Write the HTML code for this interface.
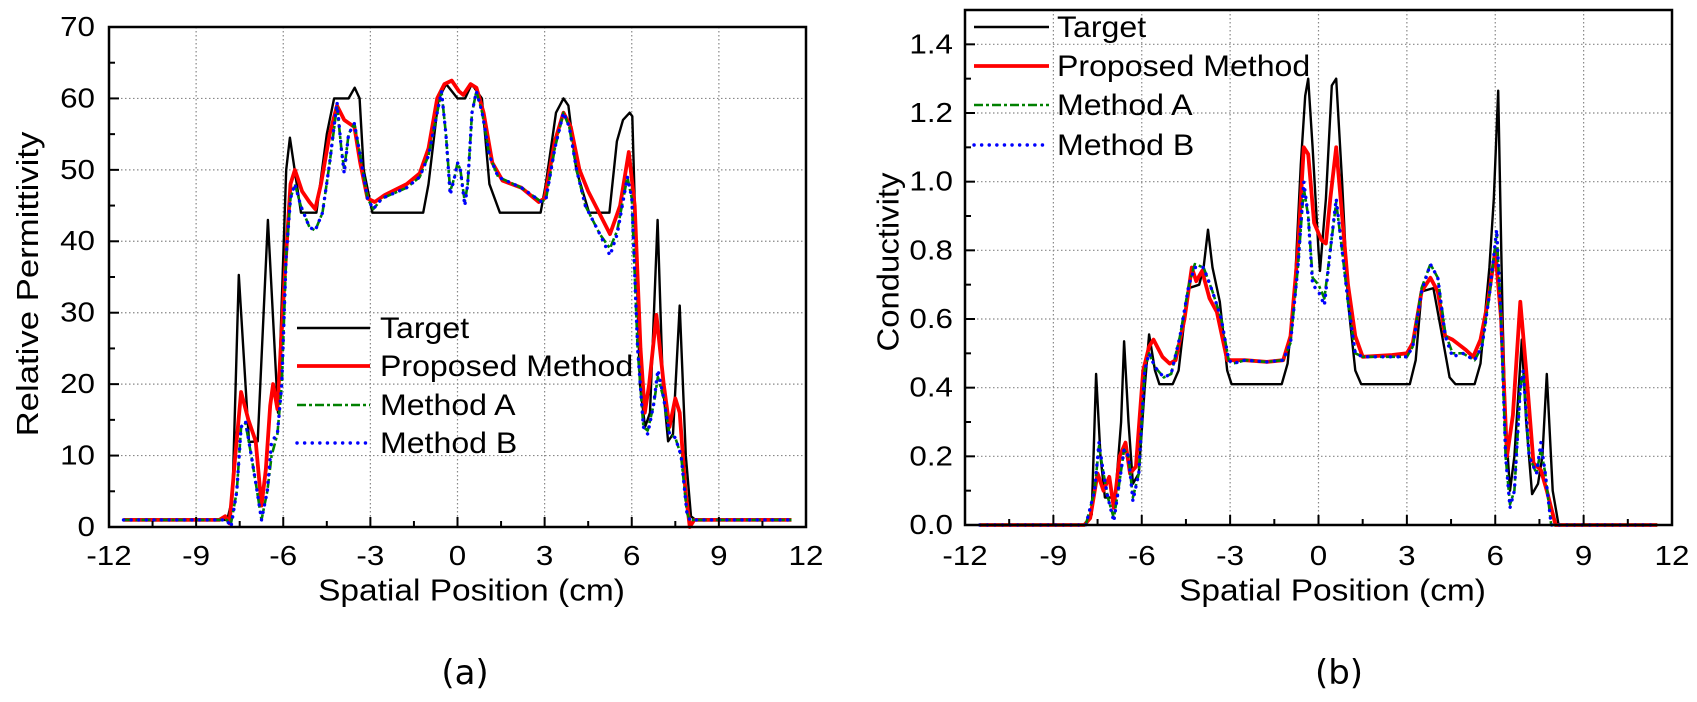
<!DOCTYPE html>
<html><head><meta charset="utf-8"><style>
html,body{margin:0;padding:0;background:#fff;}
svg{display:block;font-family:"Liberation Sans",sans-serif;}
</style></head><body>
<svg id="fig" width="1697" height="702" viewBox="0 0 1697 702" xmlns="http://www.w3.org/2000/svg"></svg>
<script>
// ---------- Data: panel (a) relative permittivity ----------
const aTargetX=[-11.5,-8,-7.9,-7.75,-7.53,-7.18,-6.88,-6.53,-6.18,-5.9,-5.77,-5.39,-4.86,-4.5,-4.25,-3.75,-3.54,-3.37,-3.23,-2.93,-1.18,-1.0,-0.65,-0.39,0,0.26,0.49,0.84,1.1,1.46,2.86,3.04,3.39,3.65,3.82,4.09,4.53,5.23,5.49,5.7,5.93,6.02,6.28,6.46,6.63,6.89,7.07,7.25,7.42,7.65,7.86,8.04,8.2,11.5];
const aTargetY=[1,1,1.5,4,35.3,11.9,12,43,16,50,54.5,44,44,55,60,60,61.5,60,50,44,44,48,60,62,60,60,62,60,48,44,44,48,58,60,59,50,44,44,54,57,58,57.5,20,14,16,43,20,12,13,31,10,1.5,1,1];
const aPropX=[-11.5,-8.2,-8.0,-7.85,-7.65,-7.45,-7.2,-6.95,-6.75,-6.6,-6.45,-6.35,-6.2,-5.95,-5.75,-5.6,-5.35,-5.1,-4.9,-4.7,-4.4,-4.15,-3.9,-3.55,-3.35,-3.1,-2.85,-2.5,-1.75,-1.3,-1.0,-0.7,-0.45,-0.2,0.05,0.2,0.45,0.65,0.9,1.2,1.55,2.2,2.8,3.0,3.35,3.65,3.9,4.2,4.5,5.25,5.6,5.9,6.1,6.3,6.45,6.6,6.85,7.1,7.3,7.5,7.65,7.85,8.0,8.15,11.5];
const aPropY=[1,1,1.5,0.5,10,18.9,15,12,3,8,17,20,16.5,35,48,50,47,45.5,44.5,48,55,59,57,56,51,46,45.5,46.5,48,49.5,53,60,62,62.5,61,60.5,62,61.5,58,51,48.5,47.5,45.5,46,54,58,56,50,47,41,45,52.5,45,25,16,20,29.7,20,14,18,16,5,0,1,1];
const aMethAX=[-11.5,-7.95,-7.8,-7.6,-7.45,-7.3,-7.1,-6.9,-6.75,-6.55,-6.4,-6.2,-6.05,-5.9,-5.75,-5.6,-5.4,-5.1,-4.9,-4.65,-4.4,-4.15,-4.0,-3.9,-3.75,-3.55,-3.35,-3.1,-2.9,-2.6,-1.75,-1.3,-1.0,-0.7,-0.55,-0.4,-0.25,-0.1,0,0.1,0.25,0.35,0.5,0.65,0.85,1.1,1.4,2.2,2.9,3.05,3.35,3.65,3.85,4.1,4.4,4.9,5.25,5.5,5.85,6.0,6.2,6.4,6.55,6.75,6.9,7.1,7.3,7.5,7.7,7.9,8.0,11.5];
const aMethAY=[1,1,0.5,5,14,14.5,10,5,1,5,10,13,20,38,46,48,45,42,41.5,44,51,59,53,50,55,56.5,52,46,44.5,46,47.5,49,52,58,61,55,47,49,51,50,45.5,48,58,61,58,52,49,47.5,45.5,46,53,58,56,50,45,41,39,41.5,49,46,25,14,13.5,17,21,18,13,12.5,10,2,1,1];
const aMethBX=aMethAX.slice();
const aMethBY=[1,1,0,5,14,14.8,10,5,1,5,12,13,20,38,46,48,45,42,41.5,44,51,59.5,53,49.5,55,56.5,52,46,44.5,46,47.5,49,52,58,61,55,46.5,49,51,50,45,48,58,61,58,52,49,47.5,45.5,46,53,58,56,50,45,41,38,41,49,46,25,14,13,17,22,18,13,12.5,10,2,1,1];

// ---------- Data: panel (b) conductivity ----------
const bTargetX=[-11.5,-7.9,-7.7,-7.55,-7.4,-7.25,-6.9,-6.7,-6.6,-6.45,-6.3,-6.1,-5.9,-5.75,-5.55,-5.4,-4.95,-4.75,-4.55,-4.4,-4.05,-3.9,-3.75,-3.6,-3.35,-3.1,-2.95,-1.25,-1.05,-0.8,-0.6,-0.45,-0.35,-0.2,0,0.05,0.25,0.45,0.6,0.8,1.0,1.25,1.45,3.1,3.3,3.5,3.9,4.2,4.45,4.65,5.3,5.5,5.8,5.95,6.1,6.25,6.35,6.5,6.65,6.9,7.05,7.25,7.45,7.6,7.75,7.95,8.15,11.5];
const bTargetY=[0,0,0.03,0.44,0.2,0.08,0.08,0.3,0.535,0.3,0.12,0.15,0.4,0.555,0.45,0.41,0.41,0.45,0.6,0.69,0.7,0.75,0.86,0.75,0.65,0.45,0.41,0.41,0.47,0.7,1.05,1.25,1.3,1.1,0.8,0.74,0.95,1.28,1.3,1.0,0.65,0.45,0.41,0.41,0.48,0.68,0.69,0.55,0.43,0.41,0.41,0.47,0.75,0.95,1.265,0.6,0.3,0.1,0.2,0.54,0.3,0.09,0.12,0.2,0.44,0.1,0,0];
const bPropX=[-11.5,-7.95,-7.75,-7.5,-7.3,-7.1,-6.95,-6.75,-6.55,-6.4,-6.2,-5.95,-5.75,-5.6,-5.3,-5.05,-4.85,-4.55,-4.3,-4.15,-3.95,-3.7,-3.45,-3.1,-2.5,-1.75,-1.2,-0.95,-0.7,-0.5,-0.35,-0.15,0.1,0.25,0.4,0.6,0.8,1.0,1.25,1.5,2.5,3.0,3.2,3.5,3.8,4.05,4.3,4.55,5.0,5.25,5.5,5.75,6.0,6.2,6.4,6.6,6.85,7.05,7.3,7.55,7.75,8.05,11.5];
const bPropY=[0,0,0.02,0.15,0.1,0.14,0.05,0.2,0.24,0.15,0.17,0.45,0.52,0.54,0.49,0.47,0.48,0.6,0.75,0.71,0.74,0.66,0.62,0.48,0.48,0.475,0.48,0.55,0.8,1.1,1.08,0.88,0.83,0.82,0.95,1.1,0.9,0.7,0.55,0.49,0.495,0.5,0.53,0.68,0.72,0.68,0.55,0.54,0.51,0.49,0.54,0.65,0.8,0.6,0.2,0.32,0.65,0.45,0.18,0.16,0.1,0,0];
const bMethAX=[-11.5,-7.9,-7.6,-7.45,-7.3,-7.15,-6.95,-6.8,-6.6,-6.45,-6.3,-6.1,-5.9,-5.75,-5.55,-5.25,-5.0,-4.7,-4.4,-4.2,-3.9,-3.6,-3.3,-3.05,-2.9,-2.5,-1.75,-1.2,-0.95,-0.7,-0.5,-0.35,-0.2,0,0.2,0.4,0.6,0.8,1.0,1.25,1.5,2.5,3.0,3.2,3.5,3.8,4.05,4.3,4.55,4.9,5.3,5.55,5.8,6.05,6.2,6.35,6.5,6.65,6.85,6.95,7.15,7.4,7.55,7.7,7.9,11.5];
const bMethAY=[0,0,0.1,0.23,0.15,0.08,0.02,0.1,0.22,0.2,0.08,0.15,0.45,0.5,0.46,0.43,0.44,0.55,0.7,0.76,0.75,0.68,0.6,0.48,0.47,0.48,0.475,0.48,0.53,0.75,0.98,0.9,0.72,0.7,0.66,0.8,0.94,0.8,0.65,0.5,0.49,0.49,0.49,0.52,0.69,0.76,0.72,0.56,0.5,0.5,0.48,0.52,0.67,0.85,0.6,0.2,0.06,0.1,0.4,0.45,0.2,0.15,0.22,0.15,0,0];
const bMethBX=bMethAX.slice();
const bMethBY=[0,0,0.1,0.24,0.15,0.08,0.01,0.1,0.22,0.2,0.07,0.15,0.45,0.5,0.46,0.43,0.44,0.55,0.7,0.75,0.75,0.68,0.6,0.48,0.47,0.48,0.475,0.48,0.53,0.75,1.0,0.9,0.7,0.68,0.64,0.8,0.95,0.8,0.65,0.5,0.49,0.49,0.49,0.52,0.68,0.76,0.72,0.55,0.49,0.5,0.48,0.52,0.67,0.86,0.6,0.2,0.05,0.1,0.4,0.45,0.2,0.15,0.24,0.15,0,0];

const xTicks=[-12,-9,-6,-3,0,3,6,9,12];
const aYTicks=[0,10,20,30,40,50,60,70];
const bYTicks=[0,0.2,0.4,0.6,0.8,1.0,1.2,1.4];
const bYLabels=["0.0","0.2","0.4","0.6","0.8","1.0","1.2","1.4"];
const legendLabels=["Target","Proposed Method","Method A","Method B"];

const NS="http://www.w3.org/2000/svg";
const svg=document.getElementById('fig');
function el(tag,attrs,parent){const e=document.createElementNS(NS,tag);for(const k in attrs)e.setAttribute(k,attrs[k]);(parent||svg).appendChild(e);return e;}
function txt(parent,x,y,s,size,anchor,sx){
  const t=el('text',{x:0,y:0,'font-size':size,'text-anchor':anchor,'dominant-baseline':'central',fill:'#000',transform:`translate(${x},${y}) scale(${sx},1)`},parent);
  t.textContent=s;return t;}

const styles=[
 {stroke:'#000','stroke-width':2.4,dash:null,cap:'butt',name:'target'},
 {stroke:'#ff0000','stroke-width':3.8,dash:null,cap:'butt',name:'proposed-method'},
 {stroke:'#008000','stroke-width':2.6,dash:'9,3,3,3',cap:'butt',name:'method-a'},
 {stroke:'#0000ff','stroke-width':3.4,dash:'0.1,7.5',cap:'round',name:'method-b'}];

function panel(cfg){
  const g=el('g',{});
  
  
  const {L,R,T,B,ymax}=cfg;
  const sx=v=>L+(v+12)/24*(R-L);
  const sy=v=>B-v/ymax*(B-T);
  const grid=el('g',{stroke:'#888','stroke-width':1.2,'stroke-dasharray':'1.5,2.5'},g);
  
  
  xTicks.slice(1,-1).forEach(v=>el('line',{x1:sx(v),x2:sx(v),y1:T,y2:B},grid));
  cfg.yticks.forEach(v=>{if(v>0&&sy(v)>T+2)el('line',{x1:L,x2:R,y1:sy(v),y2:sy(v)},grid);});
  cfg.series.forEach((s,i)=>{
    const st=styles[i];
    const pts=s.x.map((xv,j)=>sx(xv).toFixed(1)+','+sy(s.y[j]).toFixed(1)).join(' ');
    const p=el('polyline',{points:pts,fill:'none',stroke:st.stroke,'stroke-width':st['stroke-width'],'stroke-linejoin':'round','stroke-linecap':st.cap},g);
    if(st.dash)p.setAttribute('stroke-dasharray',st.dash);
    
    
  });
  const fr=el('rect',{x:L,y:T,width:R-L,height:B-T,fill:'none',stroke:'#000','stroke-width':2.5},g);
  
  
  const tk=el('g',{stroke:'#000','stroke-width':2},g);
  for(let v=-12;v<=12;v+=1.5){const maj=(v%3===0);el('line',{x1:sx(v),x2:sx(v),y1:B,y2:B-(maj?10:6)},tk);}
  const step=cfg.yticks[1]-cfg.yticks[0];
  for(let v=0;v<=ymax+1e-9;v+=step/2){const maj=Math.abs(v/step-Math.round(v/step))<1e-6;el('line',{x1:L,x2:L+(maj?10:6),y1:sy(v),y2:sy(v)},tk);}
  const xl=el('g',{},g);
  
  
  xTicks.forEach(v=>txt(xl,sx(v),556,String(v),28,'middle',1.12));
  const yl=el('g',{},g);
  
  
  cfg.yticks.forEach((v,i)=>txt(yl,cfg.ylabX,sy(v),cfg.ylabels[i],28,'end',1.12));
  const xt=txt(g,(L+R)/2+14,590,'Spatial Position (cm)',31,'middle',1.08);
  
  
  const yt=el('text',{x:0,y:0,'font-size':31,'text-anchor':'middle','dominant-baseline':'central',transform:`translate(${cfg.ytX},${cfg.ytY}) rotate(-90) scale(${cfg.ytS},1)`},g);
  yt.textContent=cfg.ytitle;
  
  
  const lg=el('g',{},g);
  
  
  legendLabels.forEach((lab,i)=>{
    const st=styles[i];const y=cfg.legY[i];
    const e=el('g',{},lg);
    
    
    const ln=el('line',{x1:cfg.legX1,x2:cfg.legX2,y1:y,y2:y,stroke:st.stroke,'stroke-width':st['stroke-width'],'stroke-linecap':st.cap},e);
    if(st.dash)ln.setAttribute('stroke-dasharray',st.dash);
    txt(e,cfg.legTX,y,lab,30,'start',1.07);
  });
  const cap=el('text',{x:cfg.capX,y:673,'font-size':34,'text-anchor':'middle','dominant-baseline':'central','font-family':'"DejaVu Sans","Liberation Sans",sans-serif'},g);
  cap.textContent=cfg.cap;
  
  
}

panel({name:'chart-a-permittivity',L:109,R:806,T:27,B:527,ymax:70,yticks:aYTicks,ylabels:aYTicks.map(String),ylabX:95,
  ytitle:'Relative Permittivity',ytX:27,ytY:284,ytS:1.12,
  series:[{x:aTargetX,y:aTargetY},{x:aPropX,y:aPropY},{x:aMethAX,y:aMethAY},{x:aMethBX,y:aMethBY}],
  legX1:297,legX2:370,legTX:380,legY:[328,366,405,443],cap:'(a)',capX:465});
panel({name:'chart-b-conductivity',L:965,R:1672,T:10,B:525,ymax:1.5,yticks:bYTicks,ylabels:bYLabels,ylabX:953,
  ytitle:'Conductivity',ytX:888,ytY:262,ytS:1.06,
  series:[{x:bTargetX,y:bTargetY},{x:bPropX,y:bPropY},{x:bMethAX,y:bMethAY},{x:bMethBX,y:bMethBY}],
  legX1:974,legX2:1049,legTX:1057,legY:[27,66,105,145],cap:'(b)',capX:1339});
</script>
</body></html>
